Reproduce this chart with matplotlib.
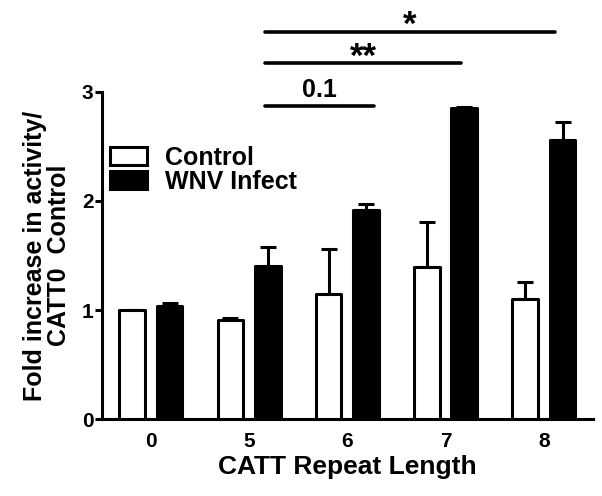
import matplotlib
matplotlib.use("Agg")
import matplotlib.pyplot as plt
import numpy as np

plt.rcParams['font.family'] = ['Liberation Sans', 'DejaVu Sans']
plt.rcParams['font.weight'] = 'bold'

# data
repeat_lengths = ['0', '5', '6', '7', '8']
control_mean = [1.00, 0.91, 1.15, 1.39, 1.10]
control_err = [0.00, 0.02, 0.41, 0.42, 0.16]
wnv_mean = [1.04, 1.40, 1.92, 2.85, 2.56]
wnv_err = [0.02, 0.18, 0.05, 0.01, 0.16]

# significance brackets: (start, end, height, label)
sig_start = [1.16, 1.16, 1.16]
sig_end = [2.27, 3.16, 4.11]
sig_height = [2.87, 3.26, 3.55]
sig_label = ['0.1', '**', '*']

fig = plt.figure(figsize=(6.02, 4.96), dpi=100)
ax = fig.add_axes([0.169, 0.155, 0.816, 0.66])

x = np.arange(len(repeat_lengths))
w = 0.26
off = 0.19
lw = 2.2

ax.bar(x - off, control_mean, w, color='white', edgecolor='black',
       linewidth=lw, joinstyle='round', label='Control', zorder=3)
ax.bar(x + off, wnv_mean, w, color='black', edgecolor='black',
       linewidth=lw, joinstyle='round', label='WNV Infect', zorder=3)

zeros = np.zeros(len(x))
ax.errorbar(x - off, control_mean, yerr=[zeros, control_err], fmt='none',
            ecolor='black', elinewidth=lw, capsize=5.5, capthick=lw, zorder=2)
ax.errorbar(x + off, wnv_mean, yerr=[zeros, wnv_err], fmt='none',
            ecolor='black', elinewidth=lw, capsize=5.5, capthick=lw, zorder=2)

for s, e, h, lab in zip(sig_start, sig_end, sig_height, sig_label):
    ax.plot([s, e], [h, h], color='black', lw=2.6, solid_capstyle='round',
            clip_on=False)
    if '*' in lab:
        ax.text((s + e) / 2, h - 0.03, lab, ha='center', va='baseline',
                fontsize=25, fontweight='bold', clip_on=False)
    else:
        ax.text((s + e) / 2, h + 0.08, lab, ha='center', va='baseline',
                fontsize=18, fontweight='bold', clip_on=False)

ax.set_xlim(-0.5, 4.5)
ax.set_ylim(0, 3)
ax.set_xticks(x)
ax.set_xticklabels(repeat_lengths)
ax.set_yticks([0, 1, 2, 3])
ax.tick_params(axis='x', length=0, labelsize=15, pad=9)
ax.tick_params(axis='y', length=5, width=lw, labelsize=15, pad=1)
for lab in ax.get_xticklabels() + ax.get_yticklabels():
    lab.set_fontweight('bold')

ax.spines['top'].set_visible(False)
ax.spines['right'].set_visible(False)
ax.spines['left'].set_linewidth(lw)
ax.spines['bottom'].set_linewidth(lw)

ax.set_xlabel('CATT Repeat Length', fontsize=19, fontweight='bold', labelpad=3)
ax.set_ylabel('Fold increase in activity/\nCATT0  Control', fontsize=18,
              fontweight='bold', labelpad=8, linespacing=1.0)

leg = ax.legend(loc='upper left', bbox_to_anchor=(0.016, 0.835), frameon=False,
                fontsize=18, handlelength=1.5, handleheight=0.75,
                handletextpad=0.7, labelspacing=0.0, borderaxespad=0,
                borderpad=0)
for t in leg.get_texts():
    t.set_fontweight('bold')

fig.savefig('out.png', dpi=100)
